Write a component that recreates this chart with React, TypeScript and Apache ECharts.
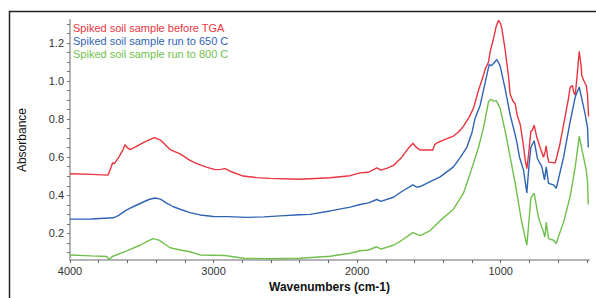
import React, { useEffect, useRef } from "react";
import * as echarts from "echarts";

const seriesNames = [
  "Spiked soil sample before TGA",
  "Spiked soil sample run to 650 C",
  "Spiked soil sample run to 800 C",
];
const seriesColors = ["#e8343f", "#2f63b3", "#71bf4c"];

const redWave = [4000, 3850, 3735, 3715, 3703, 3690, 3660, 3630, 3617, 3600, 3582, 3540, 3480, 3412, 3370, 3303, 3233, 3164, 3117, 3050, 2990, 2950, 2920, 2880, 2794, 2700, 2606, 2400, 2188, 2049, 1979, 1921, 1863, 1835, 1790, 1747, 1689, 1650, 1612, 1585, 1561, 1473, 1460, 1450, 1400, 1329, 1290, 1259, 1220, 1190, 1155, 1120, 1108, 1085, 1073, 1055, 1030, 1015, 1000, 992, 969, 946, 934, 915, 899, 885, 864, 845, 829, 818, 805, 790, 780, 767, 748, 725, 702, 690, 683, 675, 665, 640, 620, 590, 562, 530, 516, 500, 493, 481, 465, 453, 440, 435, 420, 404, 395, 388];
const redAbs = [0.513, 0.51, 0.506, 0.545, 0.571, 0.566, 0.6, 0.64, 0.665, 0.65, 0.64, 0.655, 0.68, 0.703, 0.69, 0.64, 0.617, 0.583, 0.566, 0.548, 0.535, 0.536, 0.54, 0.525, 0.501, 0.493, 0.489, 0.484, 0.492, 0.503, 0.518, 0.521, 0.544, 0.532, 0.543, 0.557, 0.6, 0.64, 0.673, 0.65, 0.638, 0.638, 0.665, 0.672, 0.69, 0.711, 0.735, 0.763, 0.81, 0.856, 0.95, 1.03, 1.062, 1.1, 1.155, 1.207, 1.29, 1.318, 1.3, 1.275, 1.164, 1.027, 0.93, 0.895, 0.88, 0.82, 0.771, 0.68, 0.583, 0.54, 0.62, 0.737, 0.74, 0.768, 0.703, 0.65, 0.6, 0.63, 0.66, 0.61, 0.574, 0.572, 0.571, 0.66, 0.771, 0.9, 0.968, 0.976, 0.945, 0.925, 1.05, 1.155, 1.08, 1.027, 1.0, 0.976, 0.925, 0.814];

const blueWave = [4000, 3850, 3698, 3660, 3617, 3560, 3512, 3450, 3408, 3370, 3330, 3280, 3233, 3164, 3094, 3001, 2900, 2769, 2650, 2537, 2400, 2328, 2188, 2049, 1979, 1921, 1863, 1835, 1747, 1689, 1612, 1585, 1561, 1491, 1422, 1329, 1280, 1236, 1200, 1178, 1143, 1108, 1080, 1065, 1050, 1027, 1004, 969, 934, 900, 888, 869, 841, 818, 805, 790, 767, 744, 713, 695, 683, 667, 632, 613, 590, 562, 516, 481, 453, 428, 411, 395, 390];
const blueAbs = [0.275, 0.276, 0.282, 0.295, 0.318, 0.34, 0.357, 0.378, 0.386, 0.38, 0.36, 0.34, 0.327, 0.309, 0.297, 0.289, 0.288, 0.284, 0.287, 0.292, 0.298, 0.3, 0.318, 0.338, 0.352, 0.36, 0.378, 0.368, 0.39, 0.42, 0.455, 0.443, 0.446, 0.472, 0.497, 0.549, 0.6, 0.651, 0.73, 0.805, 0.873, 0.993, 1.087, 1.08, 1.092, 1.113, 1.079, 0.959, 0.822, 0.72, 0.68, 0.6, 0.532, 0.412, 0.54, 0.651, 0.686, 0.592, 0.549, 0.481, 0.549, 0.463, 0.455, 0.437, 0.51, 0.6, 0.788, 0.916, 0.968, 0.882, 0.822, 0.754, 0.651];

const greenWave = [4000, 3850, 3744, 3728, 3705, 3605, 3512, 3460, 3420, 3380, 3303, 3233, 3164, 3094, 2920, 2792, 2606, 2397, 2188, 2049, 1979, 1921, 1863, 1835, 1747, 1689, 1612, 1561, 1491, 1422, 1329, 1259, 1213, 1155, 1120, 1085, 1068, 1050, 1031, 1004, 969, 934, 899, 869, 853, 818, 805, 790, 767, 737, 702, 692, 683, 667, 632, 613, 590, 562, 516, 481, 453, 428, 404, 396, 390];
const greenAbs = [0.087, 0.082, 0.079, 0.062, 0.079, 0.108, 0.138, 0.16, 0.173, 0.165, 0.125, 0.113, 0.104, 0.087, 0.084, 0.07, 0.067, 0.07, 0.08, 0.096, 0.109, 0.113, 0.13, 0.118, 0.138, 0.164, 0.204, 0.188, 0.215, 0.267, 0.327, 0.412, 0.514, 0.651, 0.754, 0.891, 0.904, 0.894, 0.897, 0.856, 0.737, 0.6, 0.463, 0.327, 0.258, 0.138, 0.25, 0.386, 0.412, 0.284, 0.207, 0.181, 0.258, 0.173, 0.164, 0.147, 0.2, 0.258, 0.395, 0.549, 0.711, 0.617, 0.532, 0.48, 0.352];

const xLabelValues = [4000, 3000, 2000, 1000];
const xTickValues = [4000, 3800, 3600, 3400, 3200, 3000, 2800, 2600, 2400, 2200, 2000, 1800, 1600, 1400, 1200, 1000, 800, 600, 400];
const yLabelValues = [0.2, 0.4, 0.6, 0.8, 1.0, 1.2];
const yTickValues = [0.1, 0.15, 0.2, 0.25, 0.3, 0.35, 0.4, 0.45, 0.5, 0.55, 0.6, 0.65, 0.7, 0.75, 0.8, 0.85, 0.9, 0.95, 1.0, 1.05, 1.1, 1.15, 1.2, 1.25, 1.3];

const FONT = "'Liberation Sans', Arial, sans-serif";

function pairs(xs: number[], ys: number[]) {
  return xs.map((x, i) => [x, ys[i]]);
}

export default function App() {
  const ref = useRef<HTMLDivElement>(null);
  useEffect(() => {
    if (!ref.current) return;
    const chart = echarts.init(ref.current, undefined, { renderer: "svg" });
    const datasets = [pairs(redWave, redAbs), pairs(blueWave, blueAbs), pairs(greenWave, greenAbs)];
    chart.setOption({
      animation: false,
      backgroundColor: "#ffffff",
      textStyle: { fontFamily: FONT },
      graphic: [
        {
          type: "rect",
          shape: { x: 9.5, y: 11.5, width: 800, height: 400 },
          style: { fill: "none", stroke: "#222", lineWidth: 1.5 },
          silent: true,
          z: -1,
        },
      ],
      legend: {
        orient: "vertical",
        left: 64,
        top: 20,
        icon: "none",
        itemWidth: 0,
        itemHeight: 11,
        itemGap: 2,
        padding: [2, 4],
        selectedMode: false,
        data: seriesNames.map((n, i) => ({
          name: n,
          textStyle: { color: seriesColors[i], fontSize: 11, fontFamily: FONT },
        })),
      },
      grid: { left: 70, right: 7, top: 20, bottom: 33 },
      xAxis: {
        type: "value",
        inverse: true,
        min: 385,
        max: 4000,
        name: "Wavenumbers (cm-1)",
        nameLocation: "middle",
        nameGap: 20,
        nameTextStyle: { color: "#111", fontSize: 12, fontWeight: "bold", fontFamily: FONT },
        axisLine: { lineStyle: { color: "#b4b4b4", width: 2 } },
        axisTick: { show: true, length: 3, customValues: xTickValues, lineStyle: { color: "#666" } },
        axisLabel: {
          customValues: xLabelValues,
          color: "#333",
          fontSize: 11,
          margin: 5,
          fontFamily: FONT,
          formatter: (v: number) => String(v),
        },
        splitLine: { show: false },
      },
      yAxis: {
        type: "value",
        min: 0.06,
        max: 1.32,
        name: "Absorbance",
        nameLocation: "middle",
        nameRotate: 90,
        nameGap: 42,
        nameTextStyle: { color: "#111", fontSize: 12, fontFamily: FONT },
        axisLine: { show: true, lineStyle: { color: "#b4b4b4", width: 2 } },
        axisTick: { show: true, length: 3, customValues: yTickValues, lineStyle: { color: "#777" } },
        axisLabel: {
          customValues: yLabelValues,
          color: "#333",
          fontSize: 11,
          margin: 6,
          fontFamily: FONT,
          formatter: (v: number) => v.toFixed(1),
        },
        splitLine: { show: false },
      },
      series: seriesNames.map((n, i) => ({
        name: n,
        type: "line",
        data: datasets[i],
        showSymbol: false,
        symbol: "none",
        lineStyle: { color: seriesColors[i], width: 1.4 },
        itemStyle: { color: seriesColors[i] },
      })),
    });
    return () => chart.dispose();
  }, []);
  return (
    <div
      ref={ref}
      style={{ position: "absolute", left: 0, top: 0, width: 596, height: 298 }}
    />
  );
}
